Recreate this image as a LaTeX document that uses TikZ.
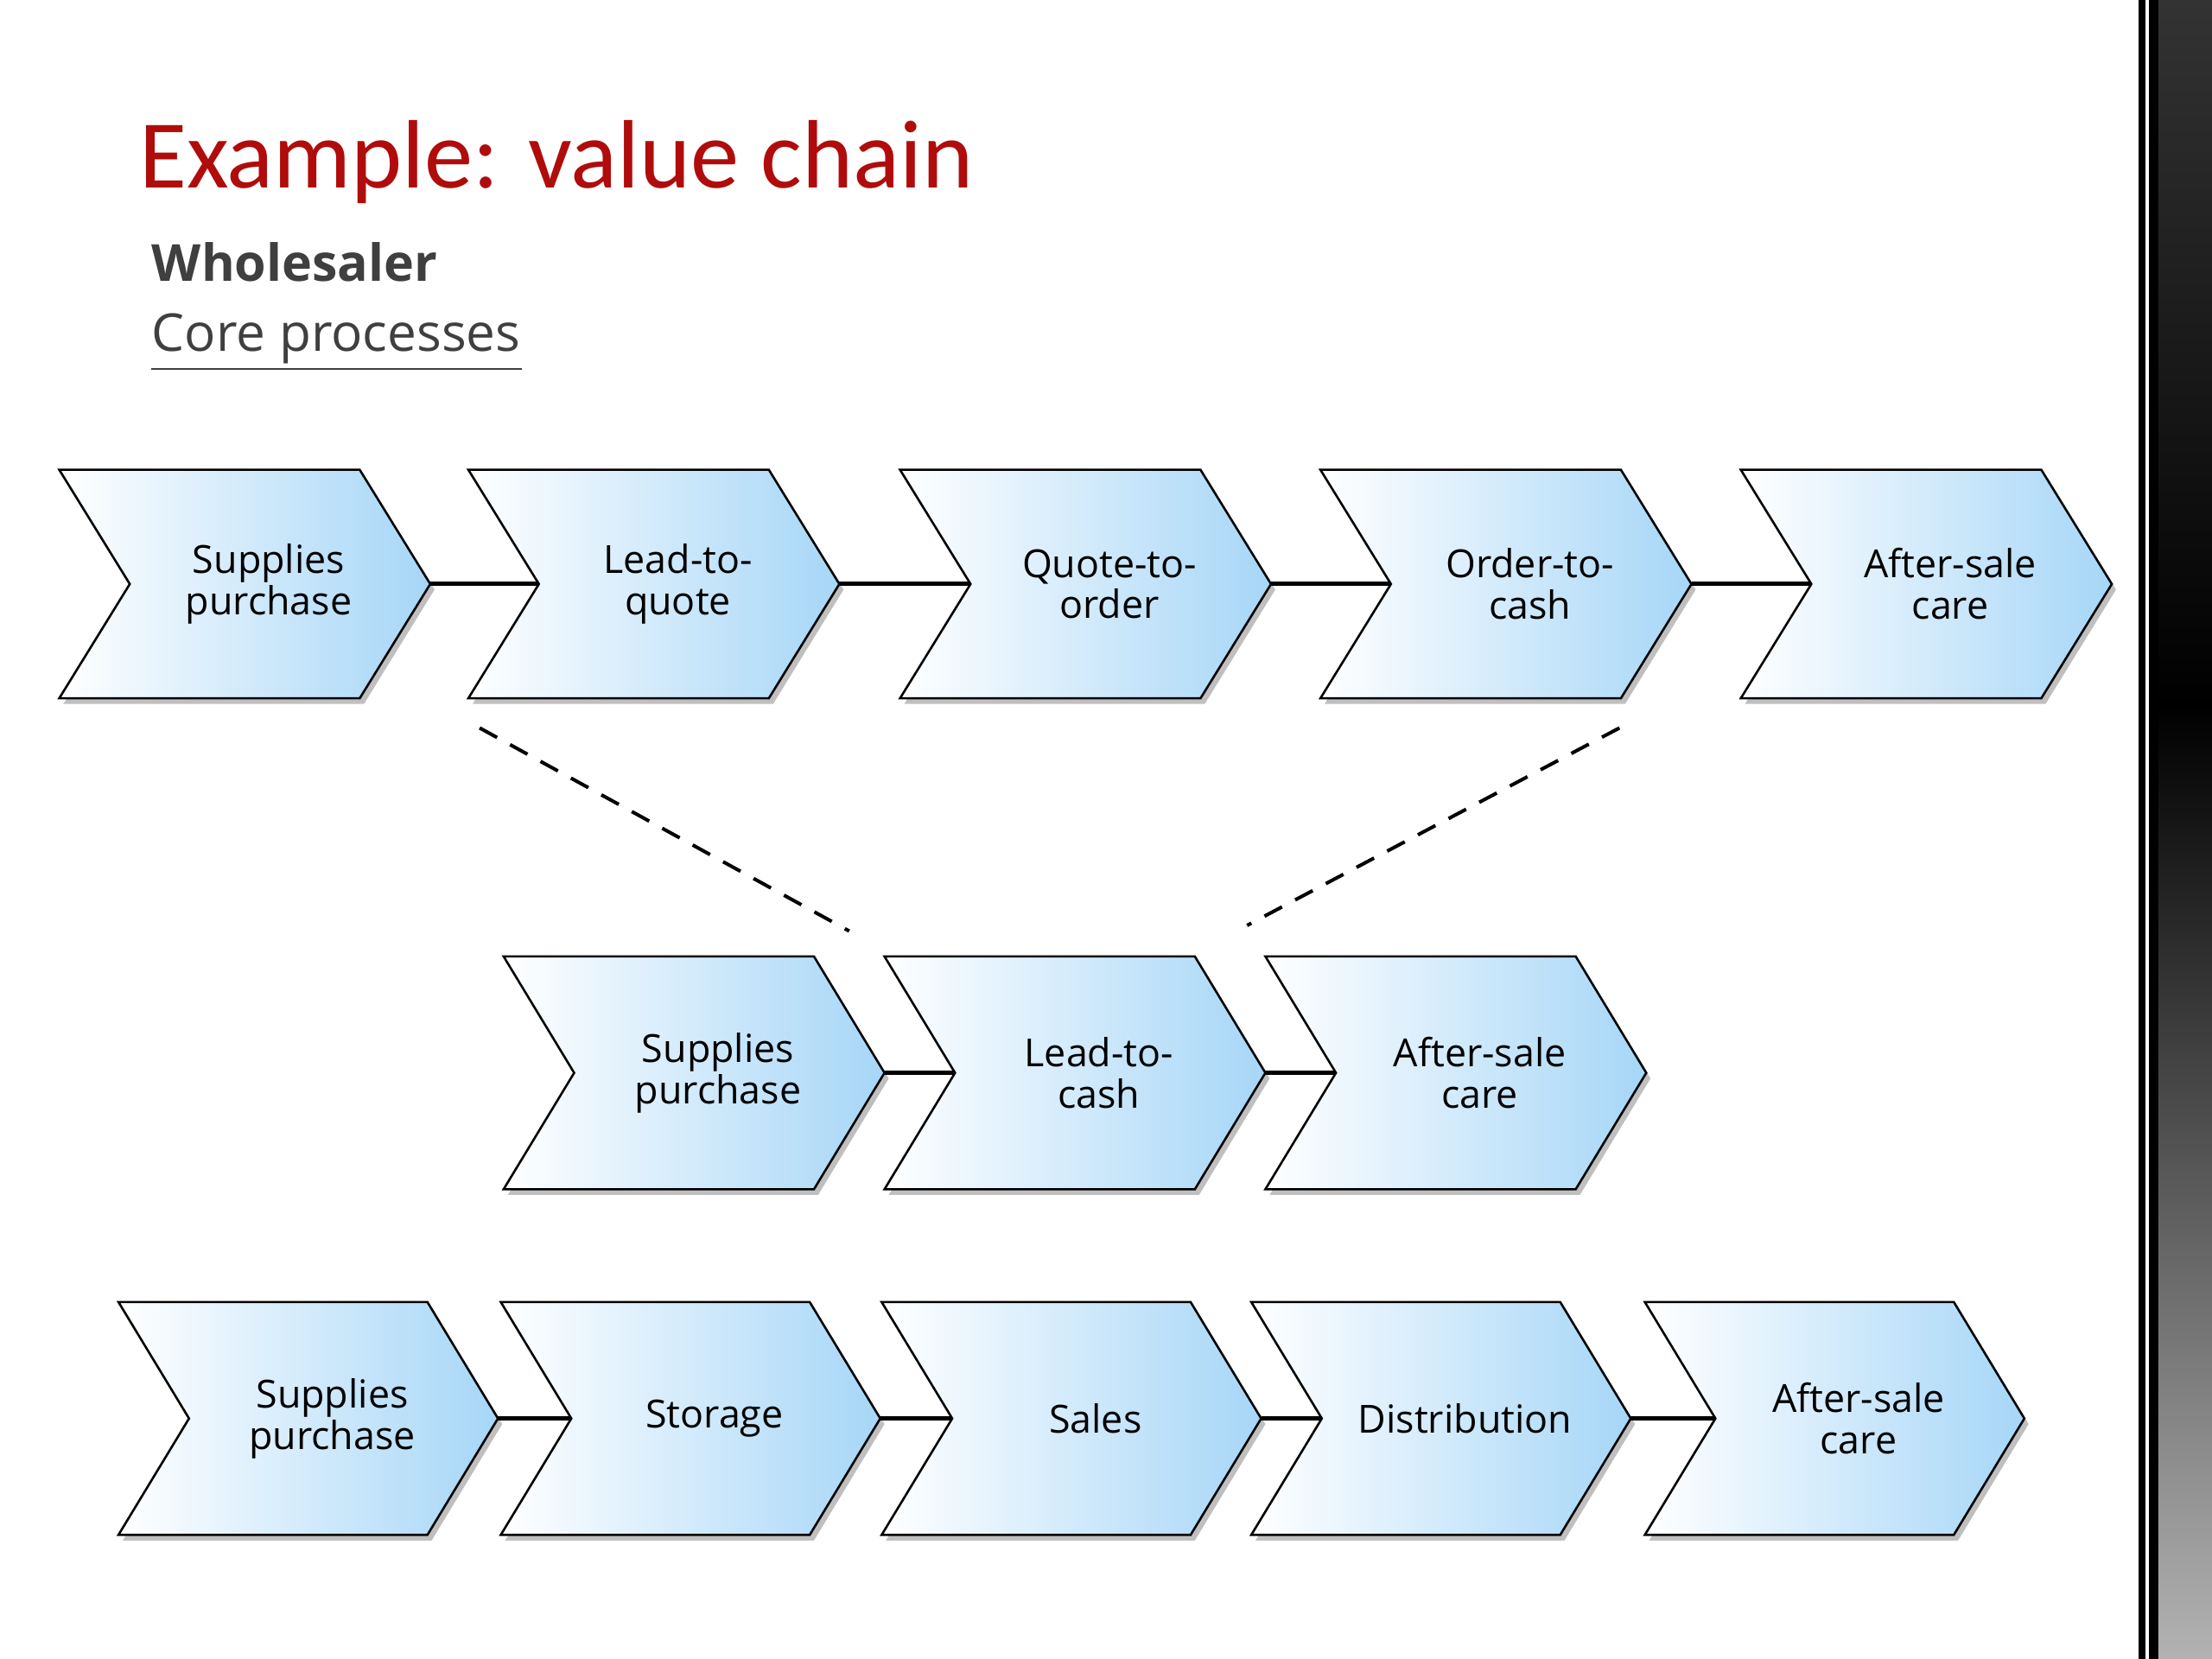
\documentclass[tikz,border=0pt]{standalone}
\usepackage{fontspec}
\setmainfont{Open Sans}
\newfontfamily\titlefont{Carlito}
\usetikzlibrary{calc}
\definecolor{chevblue}{HTML}{A6D6F7}
\definecolor{titlered}{HTML}{B00C0C}
\definecolor{subgray}{HTML}{3F3F3F}
\tikzset{
  chev/.style={draw=black, line width=0.45pt, left color=white, right color=chevblue, line join=miter},
  chevshadow/.style={fill=black, opacity=0.25},
  chevtext/.style={font=\fontsize{7.8}{8.3}\selectfont, align=center, text=black},
  link/.style={draw=black, line width=0.9pt},
  dashlink/.style={draw=black, line width=0.7pt, dash pattern=on 4pt off 3pt},
}
\newcommand{\chev}[6]{%
  \fill[chevshadow] ({#2+3},{-#3-4}) -- ({#2+#4-50+3},{-#3-4}) -- ({#2+#4+3},{-#3-#5/2-4}) -- ({#2+#4-50+3},{-#3-#5-4}) -- ({#2+3},{-#3-#5-4}) -- ({#2+50+3},{-#3-#5/2-4}) -- cycle;
  \path[chev] (#2,{-#3}) -- ({#2+#4-50},{-#3}) -- ({#2+#4},{-#3-#5/2}) -- ({#2+#4-50},{-#3-#5}) -- (#2,{-#3-#5}) -- ({#2+50},{-#3-#5/2}) -- cycle;
  \node[chevtext] (#1) at ({#2+#4/2+17},{-#3-#5/2}) {#6};
  \node[coordinate] (#1-tip) at ({#2+#4},{-#3-#5/2}) {};
  \node[coordinate] (#1-notch) at ({#2+50},{-#3-#5/2}) {};
}
\begin{document}
\begin{tikzpicture}[x=0.01cm,y=0.01cm]
\useasboundingbox (0,-1176) rectangle (1568,0);
\fill[white] (0,-1176) rectangle (1568,0);
% right decorative bar
\fill[black] (1516,-1176) rectangle (1568,0);
\draw[white, line width=0.6pt] (1522,-1176) -- (1522,0);
\shade[top color=black, bottom color=gray!60] (1530,-1176) rectangle (1568,-500);
\shade[top color=gray!40!black, bottom color=black] (1530,-500) rectangle (1568,0);
% titles
\node[anchor=west, inner sep=0pt, text=titlered, font=\titlefont\fontsize{19.6}{22}\selectfont] (title) at (98,-115) {Example: value chain};
\node[anchor=west, inner sep=0pt, text=subgray, font=\bfseries\fontsize{10.3}{12}\selectfont] (whole) at (107,-186) {Wholesaler};
\node[anchor=west, inner sep=0pt, text=subgray, font=\fontsize{10.5}{12}\selectfont] (core) at (107,-240) {Core processes};
\draw[subgray, line width=0.5pt] (core.south west) ++(0,-3) -- ($(core.south east)+(0,-3)$);
% row 1
\chev{a1}{42}{333}{263}{162}{Supplies\\purchase}
\chev{a2}{332}{333}{263}{162}{Lead-to-\\quote}
\chev{a3}{638}{333}{263}{162}{Quote-to-\\order}
\chev{a4}{936}{333}{263}{162}{Order-to-\\cash}
\chev{a5}{1234}{333}{263}{162}{After-sale\\care}
\draw[link] (a1-tip) -- (a2-notch);
\draw[link] (a2-tip) -- (a3-notch);
\draw[link] (a3-tip) -- (a4-notch);
\draw[link] (a4-tip) -- (a5-notch);
% row 2
\chev{b1}{357}{678}{270}{165}{Supplies\\purchase}
\chev{b2}{627}{678}{270}{165}{Lead-to-\\cash}
\chev{b3}{897}{678}{270}{165}{After-sale\\care}
\draw[link] (b1-tip) -- (b2-notch);
\draw[link] (b2-tip) -- (b3-notch);
% dashed
\node[coordinate] (d1) at (340,-516) {};
\node[coordinate] (d2) at (602,-660) {};
\node[coordinate] (d3) at (1148,-516) {};
\node[coordinate] (d4) at (884,-656) {};
\draw[dashlink] (d1) -- (d2);
\draw[dashlink] (d3) -- (d4);
% row 3
\chev{c1}{84}{923}{269}{165}{Supplies\\purchase}
\chev{c2}{355}{923}{269}{165}{Storage}
\chev{c3}{625}{923}{269}{165}{Sales}
\chev{c4}{887}{923}{269}{165}{Distribution}
\chev{c5}{1166}{923}{269}{165}{After-sale\\care}
\draw[link] (c1-tip) -- (c2-notch);
\draw[link] (c2-tip) -- (c3-notch);
\draw[link] (c3-tip) -- (c4-notch);
\draw[link] (c4-tip) -- (c5-notch);
\end{tikzpicture}
\end{document}
